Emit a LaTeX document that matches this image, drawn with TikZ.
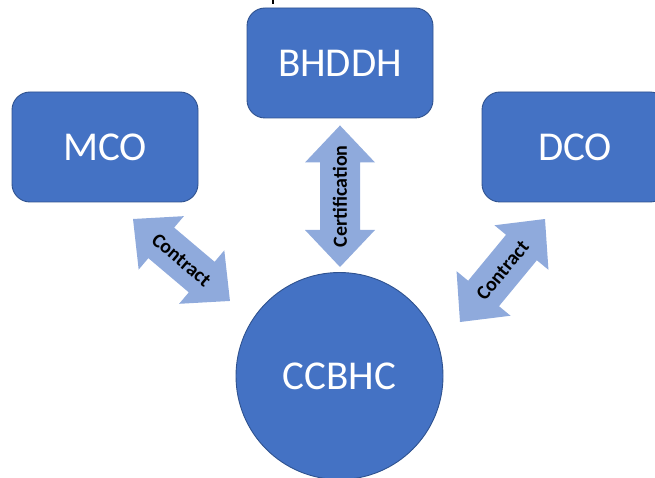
\documentclass[tikz,border=0pt]{standalone}
\usepackage{fontspec}
\setmainfont{Carlito}
\usetikzlibrary{calc}
\definecolor{boxblue}{HTML}{4472C4}
\definecolor{edgeblue}{HTML}{2F528F}
\definecolor{arrowblue}{HTML}{8FAADC}

\begin{document}
\begin{tikzpicture}[x=1pt,y=1pt,
	org/.style={draw=edgeblue, line width=0.9pt, fill=boxblue, text=white,
		font=\fontsize{41}{41}\selectfont, inner sep=0pt},
	orgbox/.style={org, rectangle, rounded corners=18pt, minimum width=186pt, minimum height=110pt},
	orgcircle/.style={org, circle, minimum size=207pt},
	fatarrow/.style={fill=arrowblue},
	arrowlabel/.style={font=\fontsize{20}{20}\selectfont\bfseries, inner sep=0pt}]
\useasboundingbox (0,0) rectangle (655,477);

\node(ccbhc)	[orgcircle]	at (339.5,101)	{CCBHC};
\node(bhddh)	[orgbox]	at (340,414)	{BHDDH};
\node(mco)	[orgbox]	at (105,330)	{MCO};
\node(dco)	[orgbox]	at (575,330)	{DCO};

\coordinate(mcoTip)	at (133,258);
\coordinate(ccbhcTipL)	at (230,176);
\coordinate(ccbhcTipT)	at (340,210);
\coordinate(bhddhTip)	at ($(bhddh.south)+(0,-7)$);
\coordinate(ccbhcTipR)	at (460,155);
\coordinate(dcoTip)	at (545,258);

\draw [line width=2pt] (273,477) -- (273,473);

\foreach \a/\b/\t in {mcoTip/ccbhcTipL/Contract, ccbhcTipT/bhddhTip/Certification, ccbhcTipR/dcoTip/Contract} {
	\path let \p1=($(\b)-(\a)$), \n1={atan2(\y1,\x1)}, \n2={veclen(\x1,\y1)} in
		[shift={(\a)}, rotate=\n1]
		[fatarrow] (0pt,0pt) -- (37pt,35pt) -- (37pt,20pt) -- (\n2-37pt,20pt) -- (\n2-37pt,35pt)
		-- (\n2,0pt) -- (\n2-37pt,-35pt) -- (\n2-37pt,-20pt) -- (37pt,-20pt) -- (37pt,-35pt) -- cycle
		node [arrowlabel, transform shape] at (\n2/2,0pt) {\t};
}

\end{tikzpicture}
\end{document}
